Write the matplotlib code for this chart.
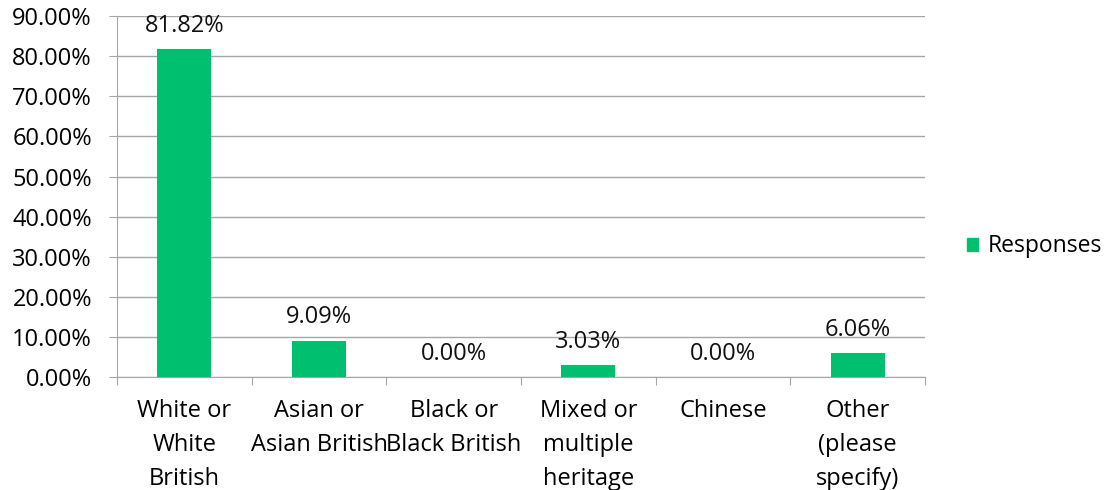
import numpy as np
import matplotlib.pyplot as plt
from matplotlib.ticker import FixedLocator, PercentFormatter
from matplotlib.patches import Patch

# ---------------------------------------------
# Dados
# ---------------------------------------------
categorias = ["White or\nWhite\nBritish", "Asian or\nAsian British", "Black or\nBlack British",
              "Mixed or\nmultiple\nheritage", "Chinese", "Other\n(please\nspecify)"]
valores = [81.82, 9.09, 0.00, 3.03, 0.00, 6.06]
serie = "Responses"

cor = "#00BF6F"
cinza = "#A6A6A6"
fs = 17
plt.rcParams['font.family'] = ['Open Sans', 'DejaVu Sans']

fig = plt.figure(figsize=(11.1, 4.9), dpi=100)
ax = fig.add_axes([0.1054, 0.2306, 0.7279, 0.7364])

x = np.arange(len(categorias))
ax.bar(x, valores, width=0.4, color=cor, zorder=3)
for xi, v in zip(x, valores):
    ax.annotate(f"{v:.2f}%", (xi, v), xytext=(0, 8), textcoords="offset points",
                ha="center", va="bottom", fontsize=fs, color="#111111")

ax.set_xlim(-0.5, len(categorias) - 0.5)
ax.set_ylim(0, 90)
ax.set_yticks(np.arange(0, 91, 10))
ax.yaxis.set_major_formatter(PercentFormatter(decimals=2))
ax.grid(axis="y", color=cinza, linewidth=1, zorder=0)

# ticks nas fronteiras, rótulos no centro
ax.xaxis.set_major_locator(FixedLocator(np.arange(-0.5, len(categorias), 1)))
ax.xaxis.set_minor_locator(FixedLocator(x))
ax.set_xticklabels([])
ax.set_xticklabels(categorias, minor=True)
ax.tick_params(axis="x", which="major", length=6, color=cinza)
ax.tick_params(axis="x", which="minor", length=0, pad=16, labelsize=fs)
ax.tick_params(axis="y", length=6, color=cinza, labelsize=fs, pad=12)
for lab in ax.get_xticklabels(minor=True):
    lab.set_linespacing(1.56)

for s in ["top", "right"]:
    ax.spines[s].set_visible(False)
for s in ["left", "bottom"]:
    ax.spines[s].set_color(cinza)

fig.legend(handles=[Patch(color=cor, label=serie)], loc="center left",
           bbox_to_anchor=(0.8525, 0.497), frameon=False, fontsize=fs - 0.5,
           handlelength=0.5, handleheight=0.5, handletextpad=0.4)

plt.savefig("out.png", dpi=100)
